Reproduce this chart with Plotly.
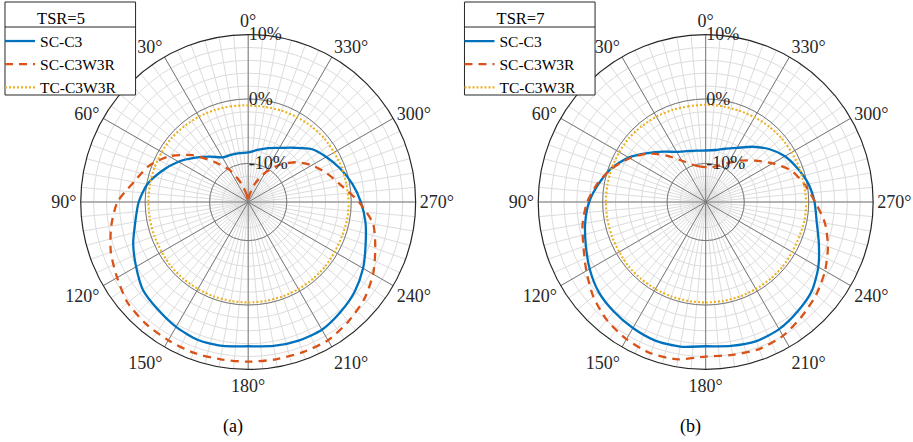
import plotly.graph_objects as go

# ---------------- data ----------------
theta_deg = [0, 10, 20, 30, 40, 50, 60, 70, 80, 90, 100, 110, 120, 130, 140, 150, 160, 170,
             180, 190, 200, 210, 220, 230, 240, 250, 260, 270, 280, 290, 300, 310, 320, 330, 340, 350, 360]

# TSR = 5
tsr5_sc_c3 = [-8.3, -8.3, -8.2, -8.0, -6.8, -5.3, -3.5, -1.8, -0.1, 1.0, 1.8, 3.0, 4.1, 5.3, 5.8, 6.4,
              6.8, 6.7, 6.4, 6.7, 6.9, 6.9, 6.3, 5.6, 4.6, 3.4, 2.5, 1.5, 0.4, -0.8, -2.0, -3.2, -5.0,
              -6.3, -7.1, -7.8, -8.3]
tsr5_sc_c3w3r = [-16.0, -15.0, -13.0, -10.3, -7.9, -4.7, -1.8, 0.4, 2.0, 4.3, 5.6, 6.7, 7.5, 8.4, 8.7,
                 8.8, 8.9, 8.8, 8.8, 8.8, 8.8, 8.8, 8.2, 7.5, 6.4, 5.0, 3.7, 1.2, -1.3, -3.0, -4.6,
                 -6.4, -8.5, -10.8, -13.0, -15.0, -16.0]
tsr5_tc_c3w3r = [-1.0, -0.9, -0.8, -0.7, -0.6, -0.5, -0.5, -0.5, -0.5, -0.5, -0.5, -0.5, -0.5, -0.4,
                 -0.4, -0.4, -0.4, -0.4, -0.4, -0.4, -0.4, -0.4, -0.4, -0.4, -0.5, -0.5, -0.4, -0.4,
                 -0.5, -0.5, -0.6, -0.6, -0.7, -0.8, -0.9, -1.0, -1.0]

# TSR = 7
tsr7_sc_c3 = [-8.0, -7.9, -7.6, -7.0, -5.8, -4.2, -2.2, -0.5, 0.8, 2.1, 3.0, 3.8, 4.8, 5.7, 6.2, 6.6,
              6.9, 6.8, 6.4, 6.7, 7.0, 6.8, 6.2, 5.5, 4.2, 2.7, 1.5, 0.9, 0.2, -0.8, -1.8, -3.2,
              -4.8, -6.3, -7.2, -7.8, -8.0]
tsr7_sc_c3w3r = [-10.6, -10.4, -9.8, -8.6, -6.6, -4.3, -2.4, -0.6, 1.0, 2.4, 3.4, 4.2, 5.4, 6.8, 7.9,
                 8.6, 9.0, 8.8, 8.0, 8.1, 8.3, 8.0, 7.2, 6.4, 5.4, 4.2, 2.8, 1.0, -0.4, -1.8, -4.0,
                 -6.0, -7.6, -9.0, -10.0, -10.5, -10.6]
tsr7_tc_c3w3r = [-0.9, -0.9, -0.8, -0.7, -0.6, -0.5, -0.5, -0.5, -0.5, -0.5, -0.5, -0.5, -0.5, -0.4,
                 -0.4, -0.4, -0.4, -0.4, -0.4, -0.4, -0.4, -0.4, -0.4, -0.4, -0.5, -0.5, -0.4, -0.4,
                 -0.5, -0.5, -0.6, -0.6, -0.7, -0.8, -0.9, -0.9, -0.9]

series_names = ["SC-C3", "SC-C3W3R", "TC-C3W3R"]
panel_titles = ["TSR=5", "TSR=7"]
captions = ["(a)", "(b)"]

angle_ticks = list(range(0, 360, 30))
angle_ticktext = [f"{a}°" for a in angle_ticks]
minor_angle_ticks = list(range(0, 360, 5))
r_range = [-16, 10]
r_ticks = [-10, 0, 10]
r_ticktext = ["-10%", "0%", "10%"]
minor_r_ticks = list(range(-14, 10, 2))

# ---------------- styling ----------------
FONT = "Liberation Serif"
colors = ["#0072BD", "#D95319", "#EDB120"]
dashes = ["solid", "8px,6px", "2px,2px"]
widths = [2.3, 2.3, 2.1]
W, H = 913, 442
R_PX = 168
centers = [(246, 202), (705, 202)]
legend_box_x = [2, 463]     # left edge of legend box, px
LEG_W, LEG_H, LEG_SEP = 131, 93, 25

fig = go.Figure()

panels = [
    (tsr5_sc_c3, tsr5_sc_c3w3r, tsr5_tc_c3w3r),
    (tsr7_sc_c3, tsr7_sc_c3w3r, tsr7_tc_c3w3r),
]

layout = {}
for p, series in enumerate(panels):
    minor_name = f"polar{2 * p + 1}" if p > 0 else "polar"
    major_name = f"polar{2 * p + 2}"
    cx, cy = centers[p]
    dom = dict(x=[(cx - R_PX) / W, (cx + R_PX) / W],
               y=[1 - (cy + R_PX) / H, 1 - (cy - R_PX) / H])
    layout[minor_name] = dict(
        domain=dom, bgcolor="white",
        angularaxis=dict(rotation=90, direction="counterclockwise", tickvals=minor_angle_ticks,
                         showticklabels=False, ticks="", gridcolor="#dcdcdc", gridwidth=1,
                         showline=False),
        radialaxis=dict(range=r_range, tickvals=minor_r_ticks, showticklabels=False, ticks="",
                        gridcolor="#dcdcdc", gridwidth=1, showline=False),
    )
    # empty trace so the minor-grid subplot is drawn
    fig.add_trace(go.Scatterpolar(r=[None], theta=[None], mode="lines", subplot=minor_name,
                                  showlegend=False, hoverinfo="skip"))
    layout[major_name] = dict(
        domain=dom, bgcolor="rgba(0,0,0,0)",
        angularaxis=dict(rotation=90, direction="counterclockwise", tickvals=angle_ticks,
                         ticktext=angle_ticktext, ticks="",
                         tickfont=dict(family=FONT, size=18, color="#262626"),
                         gridcolor="#7a7a7a", gridwidth=1, showline=True,
                         linecolor="#262626", linewidth=1.2),
        radialaxis=dict(range=r_range, tickvals=r_ticks, ticktext=r_ticktext, angle=90,
                        tickangle=90, side="clockwise", ticks="",
                        tickfont=dict(family=FONT, size=18, color="#262626"),
                        gridcolor="#7a7a7a", gridwidth=1, showline=False),
    )
    legend_name = "legend" if p == 0 else "legend2"
    for i, vals in enumerate(series):
        fig.add_trace(go.Scatterpolar(
            r=vals, theta=theta_deg, mode="lines", name=series_names[i],
            line=dict(color=colors[i], width=widths[i], dash=dashes[i],
                      shape="spline", smoothing=0.7),
            subplot=major_name, legend=legend_name, showlegend=True))
    layout[legend_name] = dict(
        x=(legend_box_x[p] - 5) / W, y=1 - 3 / H, xanchor="left", yanchor="top",
        bgcolor="rgba(0,0,0,0)", borderwidth=0,
        font=dict(family=FONT, size=15.5, color="black"),
        title=dict(text=panel_titles[p], side="top center",
                   font=dict(family=FONT, size=16.5, color="black")),
        itemwidth=30, tracegroupgap=0,
    )

fig.update_layout(**layout)

shapes = []
annotations = []
for p in range(2):
    x0 = legend_box_x[p] / W
    x1 = (legend_box_x[p] + LEG_W) / W
    # legend frame (white box) and title separator
    shapes.append(dict(type="rect", xref="paper", yref="paper", x0=x0, x1=x1,
                       y0=1 - (2 + LEG_H) / H, y1=1 - 2 / H, layer="above",
                       fillcolor="white", line=dict(color="#262626", width=1)))
    shapes.append(dict(type="line", xref="paper", yref="paper", x0=x0, x1=x1,
                       y0=1 - (2 + LEG_SEP) / H, y1=1 - (2 + LEG_SEP) / H, layer="above",
                       line=dict(color="#262626", width=1)))
    cx, cy = centers[p]
    annotations.append(dict(text=captions[p], x=(cx - 15) / W, y=1 - 426 / H, xref="paper",
                            yref="paper", xanchor="center", yanchor="middle", showarrow=False,
                            font=dict(family=FONT, size=18, color="black")))

fig.update_layout(
    width=W, height=H, margin=dict(l=0, r=0, t=0, b=0),
    paper_bgcolor="white", plot_bgcolor="white",
    shapes=shapes, annotations=annotations,
)

fig.write_html("out.html", post_script="document.body.style.margin='0';",
               config={"displayModeBar": False})
